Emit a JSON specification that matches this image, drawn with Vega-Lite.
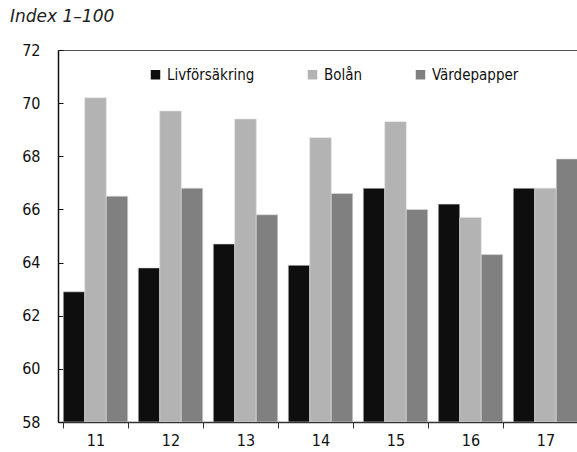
{
  "$schema": "https://vega.github.io/schema/vega-lite/v6.json",
  "autosize": "none",
  "width": 525,
  "height": 372,
  "padding": {"left": 58, "top": 50, "right": 0, "bottom": 30},
  "background": "white",
  "title": {
    "text": "Index 1–100",
    "anchor": "start",
    "frame": "group",
    "orient": "top",
    "dx": -48,
    "offset": 16,
    "font": "DejaVu Sans",
    "fontStyle": "italic",
    "fontWeight": "normal",
    "fontSize": 17,
    "color": "#222222"
  },
  "config": {
    "view": {"stroke": "#555555", "strokeWidth": 1},
    "font": "DejaVu Sans Condensed, Liberation Sans Narrow, Roboto",
    "axis": {"grid": false, "labelFont": "DejaVu Sans Condensed, Liberation Sans Narrow, Roboto", "labelFontSize": 16, "labelColor": "#111111", "title": null}
  },
  "data": {
    "values": [
      {"year": "11", "series": "Livförsäkring", "value": 62.9},
      {"year": "11", "series": "Bolån", "value": 70.2},
      {"year": "11", "series": "Värdepapper", "value": 66.5},
      {"year": "12", "series": "Livförsäkring", "value": 63.8},
      {"year": "12", "series": "Bolån", "value": 69.7},
      {"year": "12", "series": "Värdepapper", "value": 66.8},
      {"year": "13", "series": "Livförsäkring", "value": 64.7},
      {"year": "13", "series": "Bolån", "value": 69.4},
      {"year": "13", "series": "Värdepapper", "value": 65.8},
      {"year": "14", "series": "Livförsäkring", "value": 63.9},
      {"year": "14", "series": "Bolån", "value": 68.7},
      {"year": "14", "series": "Värdepapper", "value": 66.6},
      {"year": "15", "series": "Livförsäkring", "value": 66.8},
      {"year": "15", "series": "Bolån", "value": 69.3},
      {"year": "15", "series": "Värdepapper", "value": 66.0},
      {"year": "16", "series": "Livförsäkring", "value": 66.2},
      {"year": "16", "series": "Bolån", "value": 65.7},
      {"year": "16", "series": "Värdepapper", "value": 64.3},
      {"year": "17", "series": "Livförsäkring", "value": 66.8},
      {"year": "17", "series": "Bolån", "value": 66.8},
      {"year": "17", "series": "Värdepapper", "value": 67.9}
    ]
  },
  "mark": {"type": "bar", "stroke": "#dddddd", "strokeWidth": 0.6, "clip": true},
  "encoding": {
    "x": {
      "field": "year",
      "type": "nominal",
      "scale": {"paddingInner": 0.14, "paddingOuter": 0.07},
      "axis": {
        "labelAngle": 0,
        "domainColor": "#333333",
        "domainWidth": 1.5,
        "tickColor": "#333333",
        "tickSize": 6,
        "tickBand": "extent",
        "labelPadding": 4
      }
    },
    "xOffset": {
      "field": "series",
      "type": "nominal",
      "sort": ["Livförsäkring", "Bolån", "Värdepapper"],
      "scale": {"paddingInner": 0, "paddingOuter": 0}
    },
    "y": {
      "field": "value",
      "type": "quantitative",
      "scale": {"domain": [58, 72], "zero": false, "nice": false},
      "axis": {
        "values": [58, 60, 62, 64, 66, 68, 70, 72],
        "domainColor": "#111111",
        "domainWidth": 1.5,
        "tickColor": "#111111",
        "tickSize": -5,
        "labelPadding": 23
      }
    },
    "y2": {"datum": 58},
    "color": {
      "field": "series",
      "type": "nominal",
      "sort": ["Livförsäkring", "Bolån", "Värdepapper"],
      "scale": {"domain": ["Livförsäkring", "Bolån", "Värdepapper"], "range": ["#0e0e0e", "#b3b3b3", "#808080"]},
      "legend": {
        "title": null,
        "orient": "none",
        "legendX": 90,
        "legendY": 17,
        "direction": "horizontal",
        "symbolType": "square",
        "symbolSize": 90,
        "symbolStrokeWidth": 0,
        "labelFont": "DejaVu Sans Condensed, Liberation Sans Narrow, Roboto",
        "labelFontSize": 15,
        "labelColor": "#111111",
        "labelOffset": 4,
        "columnPadding": 50,
        "padding": 0
      }
    }
  }
}
